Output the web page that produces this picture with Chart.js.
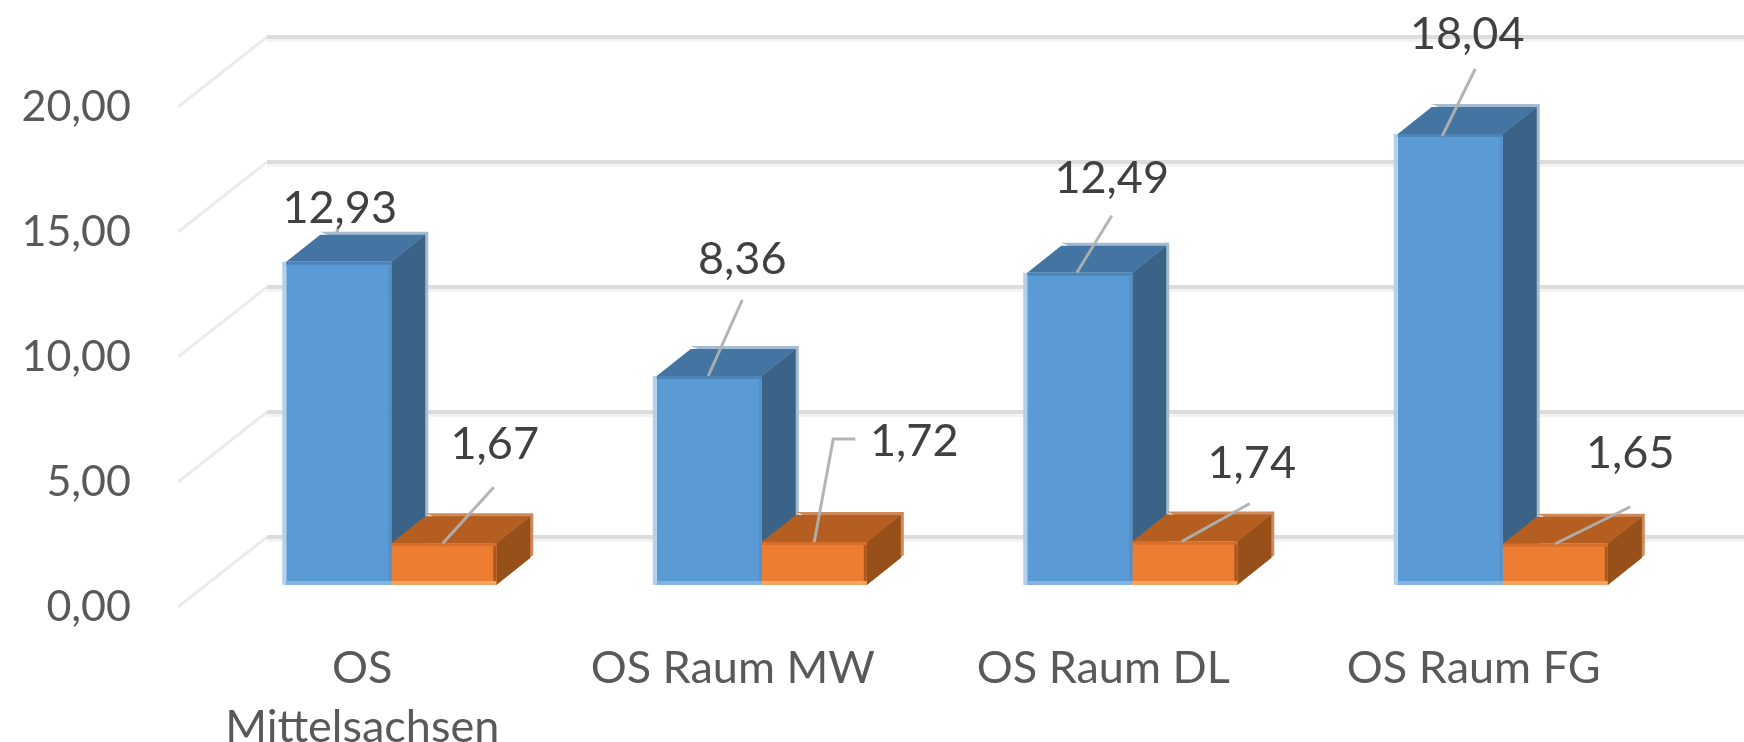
<!DOCTYPE html>
<html><head><meta charset="utf-8">
<style>html,body{margin:0;padding:0;background:#fff;overflow:hidden}canvas{display:block;filter:blur(0.7px)}</style>
<script src="https://cdn.jsdelivr.net/npm/chart.js@4/dist/chart.umd.min.js"></script>
</head><body><canvas id="c" width="1744" height="742"></canvas>
<script>
const categories = [['OS','Mittelsachsen'],'OS Raum MW','OS Raum DL','OS Raum FG'];
const seriesBlue = [12.93, 8.36, 12.49, 18.04];
const seriesOrange = [1.67, 1.72, 1.74, 1.65];
const tickValues = [0, 5, 10, 15, 20];

// label/leader placement relative to each bar's top-centre (dx, dy)
const blueLeaders = [
  {label:[1,-53], line:[[-2,-29],[0,-36]]},
  {label:[33,-117], line:[[-1,0],[33,-76]]},
  {label:[32,-94], line:[[-3,0],[32,-57]]},
  {label:[17,-100], line:[[-8,2],[25,-65]]}
];
const orangeLeaders = [
  {label:[51,-99], line:[[-1,0],[50,-56]]},
  {label:[100,-101], line:[[0,0],[19,-103],[41,-103]]},
  {label:[67,-78], line:[[-3,0],[65,-38]]},
  {label:[75,-90], line:[[0,0],[75,-37]]}
];
const fmt = v => Number(v).toFixed(2).replace('.', ',');
const DX = 34, DY = -27, BACKX = 89, BACKY = -70;
const FONT = 'Lato, "Open Sans", sans-serif';
const colors = [
  {front:'#5b9bd5', side:'#3a6387', top:'#4475a2', edge:'#b5d0ea', bottom:'#84b3e0', inner:'#5590c8', topEdge:'#4d84b8', rim:'#a4bcd2'},
  {front:'#ed7d31', side:'#975019', top:'#b45f21', edge:'#ed7d31', bottom:'#f4a266', inner:'#a9591f', topEdge:'#d56f2b', rim:'#cf8a5a'}
];
function poly(ctx, pts, fill){ctx.beginPath();pts.forEach((p,i)=>i?ctx.lineTo(p[0],p[1]):ctx.moveTo(p[0],p[1]));ctx.closePath();ctx.fillStyle=fill;ctx.fill();}

const wallPlugin = {
  id:'wall',
  beforeDatasetsDraw(chart){
    const ctx = chart.ctx, s = chart.scales.yTicks;
    ctx.save();
    tickValues.forEach(v=>{
      const y = s.getPixelForValue(v), x0 = 178, x1 = x0 + BACKX, yb = y + BACKY;
      ctx.strokeStyle='#ebebeb'; ctx.lineWidth=3;
      ctx.beginPath();ctx.moveTo(x0,y);ctx.lineTo(x1,yb);ctx.stroke();
      ctx.fillStyle='#dcdcdc'; ctx.fillRect(x1,yb-2,1744-x1,4);
      ctx.fillStyle='#f3f3f3'; ctx.fillRect(x1,yb+2,1744-x1,3);
    });
    // 3D sides and tops of the bars
    chart.data.datasets.forEach((ds,di)=>{
      const c = colors[di];
      chart.getDatasetMeta(di).data.forEach(b=>{
        const l=b.x-b.width/2, r=b.x+b.width/2, t=b.y, base=b.base;
        poly(ctx,[[l+DX,t+DY-3],[r+DX+3,t+DY-3],[r+DX+3,base+DY-3],[r,base],[r,t]],c.rim);
        poly(ctx,[[r,t],[r+DX,t+DY],[r+DX,base+DY],[r,base]],c.side);
        poly(ctx,[[l,t],[l+DX,t+DY],[r+DX,t+DY],[r,t]],c.top);
      });
    });
    ctx.restore();
  },
  afterDatasetsDraw(chart){
    const ctx = chart.ctx;
    ctx.save();
    chart.data.datasets.forEach((ds,di)=>{
      const c = colors[di];
      chart.getDatasetMeta(di).data.forEach(b=>{
        const l=b.x-b.width/2, r=b.x+b.width/2, t=b.y, base=b.base;
        if(di===0){ctx.fillStyle=c.edge;ctx.fillRect(l-4,t,4,base-t);}
        ctx.fillStyle=c.inner;ctx.fillRect(r-3,t,3,base-t);
        ctx.fillStyle=c.topEdge;ctx.fillRect(l,t,r-l,3);
        ctx.fillStyle=c.bottom;ctx.fillRect(l,base-4,r-l,4);
      });
    });
    // leader lines and value labels
    [blueLeaders,orangeLeaders].forEach((set,di)=>{
      const vals = chart.data.datasets[di].data;
      chart.getDatasetMeta(di).data.forEach((b,i)=>{
        const a = set[i];
        ctx.strokeStyle='rgba(176,176,176,.95)';ctx.lineWidth=3;ctx.lineJoin='miter';
        ctx.beginPath();
        a.line.forEach((p,k)=>k?ctx.lineTo(b.x+p[0],b.y+p[1]):ctx.moveTo(b.x+p[0],b.y+p[1]));
        ctx.stroke();
        ctx.fillStyle='#404040';ctx.font='45px '+FONT;ctx.textAlign='center';ctx.textBaseline='middle';
        ctx.fillText(fmt(vals[i]),b.x+a.label[0],b.y+a.label[1]);
      });
    });
    ctx.restore();
  }
};

new Chart(document.getElementById('c'),{
  type:'bar',
  data:{labels:categories,datasets:[
    {label:'A',data:seriesBlue,backgroundColor:colors[0].front,borderWidth:0,yAxisID:'y',xAxisID:'x',barPercentage:1,categoryPercentage:0.567},
    {label:'B',data:seriesOrange,backgroundColor:colors[1].front,borderWidth:0,yAxisID:'y',xAxisID:'x',barPercentage:1,categoryPercentage:0.567}
  ]},
  plugins:[wallPlugin],
  options:{
    responsive:false,animation:false,
    layout:{padding:{top:107,right:56,left:0,bottom:0}},
    plugins:{legend:{display:false},tooltip:{enabled:false},title:{display:false}},
    scales:{
      x:{
        grid:{display:false},border:{display:false},
        afterFit(a){a.height=135;},
        ticks:{color:'#595959',font:{family:FONT,size:45,lineHeight:1.31},padding:24,labelOffset:-29,autoSkip:false,maxRotation:0,minRotation:0}
      },
      y:{display:false,min:-0.88,max:19.12},
      yTicks:{
        position:'left',min:0,max:20,
        grid:{display:false,drawTicks:false},border:{display:false},
        afterFit(a){a.width=206;},
        ticks:{stepSize:5,color:'#595959',font:{family:FONT,size:43},padding:75,callback:v=>fmt(v)}
      }
    }
  }
});
</script></body></html>
